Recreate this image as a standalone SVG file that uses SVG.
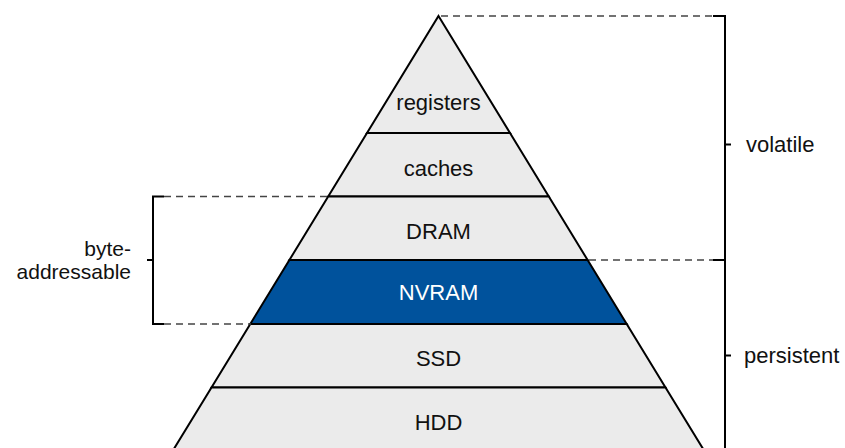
<svg xmlns="http://www.w3.org/2000/svg" width="845" height="448" viewBox="0 0 845 448">
  <style>
    .lvl { fill: #ebebeb; stroke: #000; stroke-width: 2; stroke-linejoin: miter; }
    .hl { fill: #00529c; stroke: #000; stroke-width: 2; }
    .t { font-family: "Liberation Sans", Arial, sans-serif; font-size: 22px; fill: #111; text-anchor: middle; }
    .tw { fill: #fff; }
    .side { font-family: "Liberation Sans", Arial, sans-serif; font-size: 22px; fill: #111; }
    .sm { font-size: 21px; text-anchor: end; }
    .br { stroke: #000; stroke-width: 2; fill: none; }
    .dash { stroke: #444; stroke-width: 1.5; stroke-dasharray: 7 5; fill: none; }
  </style>
  <rect width="845" height="448" fill="#fff"/>

  <g id="registers">
    <polygon class="lvl" points="438.5,16 510,133 367,133"/>
    <text class="t" x="438.5" y="110">registers</text>
  </g>
  <g id="caches">
    <polygon class="lvl" points="367,133 510,133 548.8,196.5 328.2,196.5"/>
    <text class="t" x="438.5" y="176">caches</text>
  </g>
  <g id="dram">
    <polygon class="lvl" points="328.2,196.5 548.8,196.5 587.6,260 289.4,260"/>
    <text class="t" x="438.5" y="239">DRAM</text>
  </g>
  <g id="nvram">
    <polygon class="hl" points="289.4,260 587.6,260 626.7,324 250.3,324"/>
    <text class="t tw" x="438.5" y="300">NVRAM</text>
  </g>
  <g id="ssd">
    <polygon class="lvl" points="250.3,324 626.7,324 665.5,387.5 211.5,387.5"/>
    <text class="t" x="438.5" y="366">SSD</text>
  </g>
  <g id="hdd">
    <polygon class="lvl" points="211.5,387.5 665.5,387.5 709.9,460 167.1,460"/>
    <text class="t" x="438.5" y="430">HDD</text>
  </g>

  <g id="connectors">
    <line class="dash" x1="441" y1="16" x2="713" y2="16"/>
    <line class="dash" x1="589" y1="260" x2="713" y2="260"/>
    <path class="br" d="M713,16 H725 V460"/>
    <line class="br" x1="713" y1="260" x2="725" y2="260"/>
    <line class="br" x1="725" y1="144.5" x2="731" y2="144.5"/>
    <line class="br" x1="725" y1="355.5" x2="731" y2="355.5"/>
    <line class="dash" x1="164" y1="196.5" x2="329" y2="196.5"/>
    <line class="dash" x1="164" y1="324" x2="251" y2="324"/>
    <path class="br" d="M164,196.5 H153 V324 H164"/>
    <line class="br" x1="147" y1="260" x2="153" y2="260"/>
  </g>

  <g id="labels">
    <text class="side" x="746" y="152">volatile</text>
    <text class="side" x="744" y="363">persistent</text>
    <text class="side sm" x="131" y="256">byte-</text>
    <text class="side sm" x="131" y="279">addressable</text>
  </g>
</svg>
